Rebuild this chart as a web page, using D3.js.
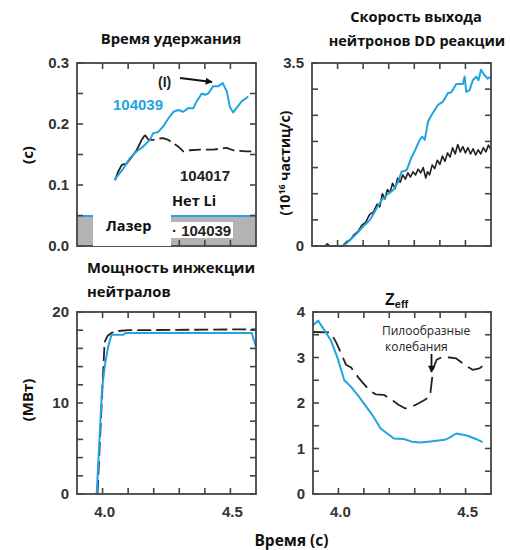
<!DOCTYPE html>
<html><head><meta charset="utf-8">
<script src="https://cdn.jsdelivr.net/npm/d3@7"></script>
<style>body{margin:0;background:#fff}svg{display:block}</style>
</head><body>
<svg id="c" width="510" height="550"></svg>
<script>
// ---------- DATA ----------
// Time axis (s)
const xTickValues = [4.0, 4.1, 4.2, 4.3, 4.4, 4.5];
const xTickLabels = ["4.0", "4.5"];

// Panel 1: confinement time (s)
const tauTime104039 = [4.046,4.061,4.081,4.107,4.133,4.159,4.185,4.198,4.218,4.237,4.257,4.277,4.296,4.316,4.335,4.355,4.368,4.388,4.4,4.413,4.433,4.453,4.47,4.486,4.498,4.511,4.527,4.544,4.57];
const tau104039 = [0.108,0.116,0.127,0.144,0.155,0.163,0.174,0.185,0.187,0.196,0.209,0.220,0.223,0.220,0.226,0.226,0.237,0.250,0.248,0.250,0.262,0.262,0.267,0.253,0.228,0.219,0.228,0.237,0.245];
const tauTime104017 = [4.049,4.061,4.075,4.094,4.114,4.133,4.153,4.166,4.18,4.198,4.218,4.237,4.257,4.277,4.296,4.316,4.342,4.381,4.433,4.485,4.511,4.564,4.597];
const tau104017 = [0.108,0.122,0.133,0.135,0.146,0.157,0.174,0.182,0.174,0.174,0.176,0.177,0.174,0.168,0.163,0.155,0.157,0.158,0.158,0.161,0.157,0.155,0.155];
const tauTicks = [0, 0.05, 0.1, 0.15, 0.2, 0.25, 0.3];
const tauLabels = ["0.0", "0.1", "0.2", "0.3"];
const laserLevel = 0.049;

// Panel 2: DD neutron rate (1e16 /s)
const nTime104039 = [3.9,4.023,4.049,4.075,4.1,4.127,4.153,4.172,4.192,4.218,4.237,4.25,4.27,4.288,4.305,4.321,4.331,4.341,4.354,4.367,4.38,4.393,4.412,4.431,4.445,4.464,4.49,4.497,4.503,4.516,4.529,4.542,4.551,4.561,4.574,4.587,4.6];
const n104039 = [0,0,0.115,0.24,0.37,0.5,0.72,0.88,0.975,1.07,1.23,1.42,1.45,1.68,1.85,2.03,2.09,2.03,2.38,2.5,2.6,2.7,2.76,2.92,2.94,3.1,3.1,3.24,2.95,2.98,3.17,3.24,3.17,3.37,3.27,3.2,3.24];
const nTime104017 = [3.9,3.95,3.96,3.97,4.02,4.035,4.05,4.065,4.08,4.095,4.11,4.125,4.14,4.155,4.165,4.175,4.185,4.195,4.205,4.215,4.225,4.235,4.245,4.255,4.265,4.275,4.285,4.295,4.305,4.315,4.325,4.335,4.345,4.352,4.36,4.37,4.38,4.39,4.4,4.41,4.42,4.43,4.44,4.45,4.46,4.47,4.48,4.49,4.5,4.51,4.52,4.53,4.54,4.55,4.56,4.57,4.58,4.59,4.6];
const n104017 = [0,0,0.04,0,0,0.08,0.12,0.22,0.28,0.4,0.45,0.6,0.65,0.8,0.75,1.0,0.9,1.08,1.02,1.2,1.1,1.3,1.22,1.36,1.28,1.4,1.32,1.42,1.36,1.47,1.4,1.5,1.3,1.42,1.36,1.55,1.48,1.64,1.56,1.72,1.62,1.78,1.7,1.88,1.76,1.94,1.8,1.9,1.78,1.88,1.76,1.86,1.74,1.84,1.76,1.88,1.8,1.93,1.84];
const nTicks = [0,0.5,1,1.5,2,2.5,3,3.5];
const nLabels = ["0","3.5"];

// Panel 3: NBI power (MW)
const pTime104039 = [3.977,3.998,4.01,4.022,4.035,4.081,4.09,4.583,4.6];
const p104039 = [0,11.6,14.3,16.2,17.5,17.5,17.7,17.7,16.2];
const pTime104017 = [3.98,4.0,4.008,4.02,4.035,4.055,4.1,4.6];
const p104017 = [0,12,16.7,17.4,17.7,17.9,18.0,18.1];
const pTicks = [0,2,4,6,8,10,12,14,16,18,20];
const pLabels = ["0","10","20"];

// Panel 4: Zeff
const zTime104039 = [3.9,3.92,3.945,3.97,3.997,4.023,4.049,4.075,4.1,4.133,4.166,4.192,4.218,4.257,4.289,4.322,4.353,4.386,4.418,4.437,4.463,4.483,4.508,4.54,4.567];
const z104039 = [3.71,3.81,3.6,3.38,2.98,2.5,2.36,2.18,1.99,1.74,1.44,1.33,1.22,1.21,1.15,1.13,1.15,1.17,1.19,1.24,1.33,1.31,1.28,1.21,1.14];
const zTime104017 = [3.9,3.97,3.993,4.03,4.05,4.081,4.12,4.146,4.178,4.21,4.236,4.263,4.289,4.314,4.34,4.36,4.373,4.386,4.411,4.437,4.463,4.496,4.528,4.554,4.573];
const z104017 = [3.56,3.55,3.31,2.84,2.78,2.54,2.29,2.19,2.18,2.07,1.96,1.88,1.92,1.99,2.07,2.14,2.76,2.95,3.02,3.0,2.98,2.84,2.73,2.76,2.84];
const zTicks = [0,0.5,1,1.5,2,2.5,3,3.5,4];
const zLabels = ["0","1","2","3","4"];

// ---------- STYLE ----------
const BLUE = "#22a3e2", BLACK = "#222", FRAME = "#444", TXT = "#333";
const svg = d3.select("#c");
const defs = svg.append("defs");
defs.append("marker").attr("id","ah").attr("viewBox","0 0 10 10").attr("refX",9).attr("refY",5)
  .attr("markerWidth",9).attr("markerHeight",7).attr("markerUnits","userSpaceOnUse").attr("orient","auto")
  .append("path").attr("d","M0,0L10,5L0,10z").attr("fill","#111");

function zip(xs, ys){ return xs.map((x,i)=>[x, ys[i]]); }

function panel(o){
  const x = d3.scaleLinear().domain([3.9,4.6]).range([o.x0,o.x1]);
  const y = d3.scaleLinear().domain(o.yDomain).range([o.y1,o.y0]);
  const g = svg.append("g");
  return {x,y,g,o};
}

function frame(p, showXLabels){
  const {x,y,g,o} = p;
  const tl = 6;
  const ax = g.append("g").attr("class","ticks");
  xTickValues.forEach(t=>{
    ax.append("line").attr("x1",x(t)).attr("x2",x(t)).attr("y1",o.y0).attr("y2",o.y0+tl);
    ax.append("line").attr("x1",x(t)).attr("x2",x(t)).attr("y1",o.y1).attr("y2",o.y1-tl);
  });
  o.yTicks.forEach(v=>{
    ax.append("line").attr("x1",o.x0).attr("x2",o.x0+tl).attr("y1",y(v)).attr("y2",y(v));
    ax.append("line").attr("x1",o.x1).attr("x2",o.x1-tl).attr("y1",y(v)).attr("y2",y(v));
  });
  ax.selectAll("line").attr("stroke",FRAME).attr("stroke-width",1.6);
  g.append("rect").attr("x",o.x0).attr("y",o.y0).attr("width",o.x1-o.x0).attr("height",o.y1-o.y0)
    .attr("fill","none").attr("stroke",FRAME).attr("stroke-width",1.8);
  o.yLabels.forEach(s=>{
    g.append("text").attr("x",o.x0-8).attr("y",y(+s)).attr("dy","0.36em").attr("text-anchor","end")
      .attr("font-family","Liberation Sans, Arial, sans-serif").attr("font-weight","bold").attr("font-size",15)
      .attr("fill",TXT).text(s);
  });
  if(showXLabels){
    xTickLabels.forEach(s=>{
      g.append("text").attr("x",x(+s)+2).attr("y",o.y1+23).attr("text-anchor","middle")
        .attr("font-family","Liberation Sans, Arial, sans-serif").attr("font-weight","bold").attr("font-size",15)
        .attr("fill",TXT).text(s);
    });
  }
}

function line(p, xs, ys, color, width, dash, filt){
  const {x,y,g} = p;
  let pts = zip(xs,ys);
  if(filt) pts = pts.filter(filt);
  g.append("path").datum(pts)
    .attr("d", d3.line().x(d=>x(d[0])).y(d=>y(d[1])))
    .attr("fill","none").attr("stroke",color).attr("stroke-width",width)
    .attr("stroke-linejoin","round")
    .attr("stroke-dasharray", dash || null);
}

function text(s, x, y, opt={}){
  const t = svg.append("text").attr("x",x).attr("y",y)
    .attr("font-family", opt.family || "Open Sans, sans-serif")
    .attr("font-weight", opt.weight || "bold")
    .attr("font-size", opt.size || 14)
    .attr("fill", opt.fill || "#111")
    .attr("text-anchor", opt.anchor || "start");
  if(opt.rotate) t.attr("transform",`rotate(-90,${x},${y})`);
  t.text(s);
  return t;
}

// ---------- Panel 1 ----------
const p1 = panel({x0:77,x1:256,y0:63,y1:246,yDomain:[0,0.3],yTicks:tauTicks,yLabels:tauLabels});
p1.g.append("rect").attr("x",p1.o.x0).attr("y",p1.y(laserLevel)).attr("width",p1.o.x1-p1.o.x0)
  .attr("height",p1.o.y1-p1.y(laserLevel)).attr("fill","#b3b3b3");
p1.g.append("line").attr("x1",p1.o.x0).attr("x2",p1.o.x1).attr("y1",p1.y(laserLevel)).attr("y2",p1.y(laserLevel))
  .attr("stroke",BLUE).attr("stroke-width",2);
line(p1, tauTime104017, tau104017, BLACK, 1.8, null, d=>d[0]<=4.17);
line(p1, tauTime104017, tau104017, BLACK, 1.8, "12,5", d=>d[0]>=4.166);
line(p1, tauTime104039, tau104039, BLUE, 2);
frame(p1, false);
svg.append("rect").attr("x",93).attr("y",212).attr("width",78).attr("height",34).attr("fill","#fff");
svg.append("rect").attr("x",171).attr("y",222).attr("width",62).attr("height",16).attr("fill","#fff");
text("Лазер",106,231,{size:14.5});
text("· 104039",172,236,{family:"Liberation Sans, Arial, sans-serif",size:15,weight:"bold",fill:"#222"});
text("Нет Li",172,206,{size:14.5});
text("104017",180,181,{family:"Liberation Sans, Arial, sans-serif",size:15,fill:"#222"});
text("104039",113,110,{family:"Liberation Sans, Arial, sans-serif",size:15,fill:BLUE});
text("(I)",158,87,{family:"Liberation Sans, Arial, sans-serif",size:14,fill:"#222"});
svg.append("line").attr("x1",180).attr("y1",78).attr("x2",212).attr("y2",82)
  .attr("stroke","#111").attr("stroke-width",1.8).attr("marker-end","url(#ah)");

// ---------- Panel 2 ----------
const p2 = panel({x0:312,x1:491,y0:63,y1:246,yDomain:[0,3.5],yTicks:nTicks,yLabels:nLabels});
line(p2, nTime104017, n104017, BLACK, 1.6);
line(p2, nTime104039, n104039, BLUE, 2);
frame(p2, false);

// ---------- Panel 3 ----------
const p3 = panel({x0:77,x1:256,y0:312,y1:494,yDomain:[0,20],yTicks:pTicks,yLabels:pLabels});
line(p3, pTime104017, p104017, BLACK, 1.8, "14,5");
line(p3, pTime104039, p104039, BLUE, 2);
frame(p3, true);

// ---------- Panel 4 ----------
const p4 = panel({x0:313,x1:491,y0:312,y1:494,yDomain:[0,4],yTicks:zTicks,yLabels:zLabels});
line(p4, zTime104017, z104017, BLACK, 1.8, "16,7");
line(p4, zTime104039, z104039, BLUE, 2);
frame(p4, true);
text("Пилообразные",382,335,{weight:"normal",size:12,fill:"#222"});
text("колебания",385,351,{weight:"normal",size:12,fill:"#222"});
svg.append("line").attr("x1",431.5).attr("y1",354).attr("x2",431.5).attr("y2",372)
  .attr("stroke","#111").attr("stroke-width",1.8).attr("marker-end","url(#ah)");

// ---------- Titles & axis labels ----------
text("Время удержания",171,44,{anchor:"middle",size:14.8});
text("Скорость выхода",416,22,{anchor:"middle",size:14.6});
text("нейтронов DD реакции",417,46,{anchor:"middle",size:14.4});
text("Мощность инжекции",87,273,{size:14.8});
text("нейтралов",87,297,{size:14.8});
const zt = svg.append("text").attr("x",385).attr("y",305).attr("font-family","Liberation Sans, Arial, sans-serif")
  .attr("font-weight","bold").attr("font-size",16).attr("fill","#111");
zt.append("tspan").text("Z");
zt.append("tspan").attr("font-size",11).attr("dy",3).text("eff");
text("Время (с)",291.5,546,{anchor:"middle",size:15.5});
text("(с)",33,155,{anchor:"middle",size:15,rotate:true});
text("(МВт)",33,400,{anchor:"middle",size:15,rotate:true});
const yl = svg.append("text").attr("x",290).attr("y",163).attr("text-anchor","middle")
  .attr("font-family","Open Sans, sans-serif").attr("font-weight","bold").attr("font-size",14).attr("fill","#111")
  .attr("transform","rotate(-90,290,163)");
yl.append("tspan").text("(10");
yl.append("tspan").attr("font-size",9).attr("dy",-5).text("16");
yl.append("tspan").attr("dy",5).text(" частиц/с)");
</script>
</body></html>
